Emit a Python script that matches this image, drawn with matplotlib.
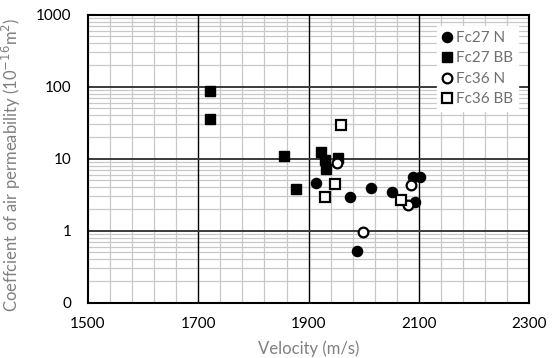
import matplotlib
matplotlib.use("Agg")
import matplotlib.pyplot as plt
from matplotlib.ticker import FixedLocator, FixedFormatter, LogLocator, NullFormatter

# data
fc27_n_x = [1913, 1975, 2013, 2052, 1988, 2090, 2102, 2093]
fc27_n_y = [4.6, 2.9, 3.9, 3.5, 0.52, 5.5, 5.5, 2.5]

fc27_bb_x = [1721, 1721, 1855, 1877, 1922, 1930, 1931, 1953]
fc27_bb_y = [87, 36, 11, 3.8, 12.5, 9.6, 7.1, 10.3]

fc36_n_x = [1952, 1999, 2086, 2081]
fc36_n_y = [8.8, 0.96, 4.35, 2.3]

fc36_bb_x = [1959, 1948, 1930, 2068]
fc36_bb_y = [29.4, 4.45, 2.9, 2.7]

x_ticks = [1500, 1700, 1900, 2100, 2300]
y_ticks = [0.1, 1, 10, 100, 1000]
y_tick_labels = ['0', '1', '10', '100', '1000']

plt.rcParams['font.family'] = ['Lato', 'DejaVu Sans']

fig = plt.figure(figsize=(5.53, 3.58), dpi=100)
ax = fig.add_axes([0.159, 0.1545, 0.798, 0.8045])

ax.plot(fc27_n_x, fc27_n_y, 'o', ms=7.3, color='black', label='Fc27 N', zorder=3)
ax.plot(fc27_bb_x, fc27_bb_y, 's', ms=6.5, color='black', label='Fc27 BB', zorder=3)
ax.plot(fc36_n_x, fc36_n_y, 'o', ms=7.0, mfc='white', mec='black', mew=1.6,
        label='Fc36 N', zorder=3)
ax.plot(fc36_bb_x, fc36_bb_y, 's', ms=7.0, mfc='white', mec='black', mew=1.6,
        label='Fc36 BB', zorder=3)

ax.set_yscale('log')
ax.set_xlim(1500, 2300)
ax.set_ylim(0.1, 1000)

# minor x grid every 40, skipping the major positions
minor_x = [v for v in range(1500, 2301, 40) if v not in x_ticks]
ax.xaxis.set_major_locator(FixedLocator(x_ticks))
ax.xaxis.set_minor_locator(FixedLocator(minor_x))
ax.yaxis.set_major_locator(FixedLocator(y_ticks))
ax.yaxis.set_major_formatter(FixedFormatter(y_tick_labels))
ax.yaxis.set_minor_locator(LogLocator(base=10, subs=range(2, 10), numticks=20))
ax.yaxis.set_minor_formatter(NullFormatter())

ax.grid(which='minor', color='#c8c8c8', lw=0.9)
ax.set_axisbelow(True)

# major grid on top of the minor one
for xv in x_ticks[1:-1]:
    ax.axvline(xv, color='black', lw=1.0, zorder=1)
for yv in y_ticks[1:-1]:
    ax.axhline(yv, color='#3a3a3a', lw=1.4, zorder=1.1)

for s in ax.spines.values():
    s.set_linewidth(1.5)
    s.set_color('black')

ax.tick_params(which='both', length=0, labelsize=11, colors='black')
ax.tick_params(axis='x', pad=10)
ax.tick_params(axis='y', pad=12)

ax.set_xlabel('Velocity (m/s)', fontsize=12, color='#808080', labelpad=7)
ax.set_ylabel('Coeffcient of air permeability (10$^{-16}$m$^2$)', fontsize=12,
              color='#808080')
ax.yaxis.set_label_coords(-0.147, 0.478)

leg = ax.legend(loc='upper right', bbox_to_anchor=(0.985, 0.975), frameon=True,
                fancybox=False, edgecolor='white', framealpha=1, fontsize=11,
                handlelength=0.7, handletextpad=0.25, labelspacing=0.42,
                borderpad=0.3, borderaxespad=0.3)
leg.set_zorder(5)
for t in leg.get_texts():
    t.set_color('#707070')

fig.savefig('out.png', dpi=100)
